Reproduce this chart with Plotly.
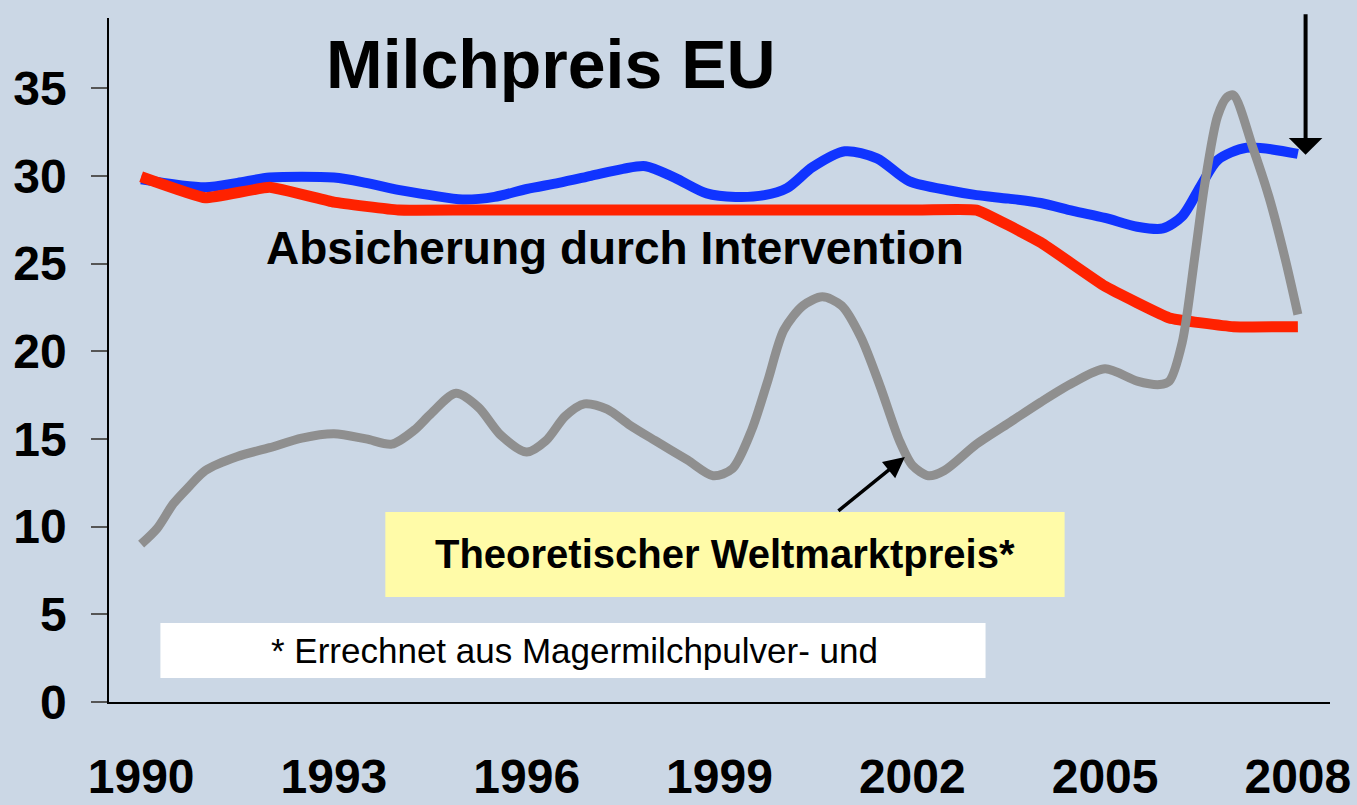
import plotly.graph_objects as go

# ---- data ----
blue_x = [1990.0, 1991.0, 1991.5, 1992.0, 1993.0, 1993.5, 1994.0, 1994.5, 1995.0, 1995.5,
          1996.0, 1996.5, 1997.0, 1997.5, 1997.85, 1998.3, 1998.8, 1999.25, 1999.7, 2000.05,
          2000.45, 2000.95, 2001.45, 2001.95, 2002.6, 2003.0, 2003.5, 2004.0, 2004.5, 2005.0,
          2005.5, 2005.9, 2006.2, 2006.5, 2006.75, 2007.2, 2008.0]
blue_y = [29.8, 29.35, 29.6, 29.9, 29.9, 29.6, 29.2, 28.9, 28.65, 28.8,
          29.25, 29.6, 30.0, 30.4, 30.55, 29.9, 29.0, 28.8, 28.9, 29.3,
          30.5, 31.4, 31.0, 29.7, 29.15, 28.9, 28.7, 28.45, 28.0, 27.6,
          27.1, 27.0, 27.7, 29.5, 30.9, 31.6, 31.25]

red_x = [1990, 1991, 1992, 1993, 1994, 1995, 1996, 1997, 1998, 1999, 2000, 2001, 2002,
         2003, 2004, 2005, 2006, 2007, 2008]
red_y = [29.95, 28.75, 29.35, 28.5, 28.05, 28.05, 28.05, 28.05, 28.05, 28.05, 28.05, 28.05,
         28.05, 28.05, 26.2, 23.7, 21.9, 21.4, 21.4]

grey_x = [1990.0, 1990.25, 1990.5, 1990.75, 1991.0, 1991.5, 1992.0, 1992.5, 1993.0, 1993.5,
          1993.9, 1994.25, 1994.5, 1994.9, 1995.25, 1995.6, 1996.0, 1996.3, 1996.6, 1996.9,
          1997.25, 1997.6, 1998.0, 1998.5, 1998.9, 1999.2, 1999.5, 1999.75, 2000.0, 2000.3,
          2000.6, 2000.9, 2001.2, 2001.5, 2001.8, 2002.0, 2002.25, 2002.5, 2003.0, 2003.5,
          2004.0, 2004.5, 2005.0, 2005.5, 2005.85, 2006.0, 2006.2, 2006.4, 2006.55, 2006.75,
          2006.9, 2007.0, 2007.3, 2007.55, 2007.8, 2008.0]
grey_y = [9.0, 9.9, 11.3, 12.3, 13.2, 14.0, 14.5, 15.05, 15.3, 15.0,
          14.7, 15.5, 16.4, 17.6, 16.8, 15.2, 14.25, 14.9, 16.3, 17.0,
          16.7, 15.8, 14.9, 13.8, 12.9, 13.3, 15.5, 18.3, 21.2, 22.6,
          23.1, 22.6, 20.8, 18.0, 14.9, 13.5, 12.9, 13.2, 14.7, 15.9,
          17.1, 18.2, 19.0, 18.3, 18.1, 18.3, 20.5, 25.5, 29.5, 33.4,
          34.5, 34.6, 31.6, 28.8, 25.3, 22.1]

x_ticks = [1990, 1993, 1996, 1999, 2002, 2005, 2008]
y_ticks = [0, 5, 10, 15, 20, 25, 30, 35]

title_text = "Milchpreis EU"
label_blue = "Absicherung durch Intervention"
label_grey = "Theoretischer Weltmarktpreis*"
footnote = "* Errechnet aus Magermilchpulver- und"

BG = "#CBD7E5"
FONT = "Liberation Sans, Arial, sans-serif"

fig = go.Figure()
fig.add_trace(go.Scatter(x=blue_x, y=blue_y, mode="lines",
                         line=dict(color="#1034FF", width=10, shape="spline", smoothing=0.8),
                         hoverinfo="skip"))
fig.add_trace(go.Scatter(x=red_x, y=red_y, mode="lines",
                         line=dict(color="#FF2200", width=11, shape="spline", smoothing=0.3),
                         hoverinfo="skip"))
fig.add_trace(go.Scatter(x=grey_x, y=grey_y, mode="lines",
                         line=dict(color="#8F8F8F", width=9, shape="spline", smoothing=0.8),
                         hoverinfo="skip"))

# boxes
fig.add_shape(type="rect", xref="x", yref="y", x0=1993.80, x1=2004.37, y0=5.99, y1=10.83,
              fillcolor="#FFFBA8", line=dict(width=0), layer="below")
fig.add_shape(type="rect", xref="x", yref="y", x0=1990.30, x1=2003.14, y0=1.37, y1=4.50,
              fillcolor="#FFFFFF", line=dict(width=0), layer="below")

ann = []
ann.append(dict(x=1996.38, y=36.4, xref="x", yref="y", text=title_text, showarrow=False,
                font=dict(family=FONT, size=68, color="black", weight="bold")))
ann.append(dict(x=1997.37, y=25.9, xref="x", yref="y", text=label_blue, showarrow=False,
                font=dict(family=FONT, size=46, color="black", weight="bold")))
ann.append(dict(x=1999.08, y=8.45, xref="x", yref="y", text=label_grey, showarrow=False,
                font=dict(family=FONT, size=40, color="black", weight="bold")))
ann.append(dict(x=1996.74, y=2.96, xref="x", yref="y", text=footnote, showarrow=False,
                font=dict(family=FONT, size=35, color="black")))
# arrows
ann.append(dict(x=2008.12, y=31.2, xref="x", yref="y", text="", showarrow=True,
                ax=0, ay=-142, arrowhead=1, arrowsize=1.4, arrowwidth=4, arrowcolor="black"))
ann.append(dict(x=2001.885, y=13.97, xref="x", yref="y", text="", showarrow=True,
                ax=-68, ay=55, arrowhead=2, arrowsize=1.2, arrowwidth=3.5, arrowcolor="black"))

fig.update_layout(
    width=1357, height=805,
    margin=dict(l=109, r=27, t=18, b=103, pad=0, autoexpand=False),
    paper_bgcolor=BG, plot_bgcolor=BG,
    showlegend=False,
    annotations=ann,
    font=dict(family=FONT, color="black"),
)
fig.update_xaxes(range=[1989.5, 2008.5], tickvals=x_ticks, ticktext=[str(v) for v in x_ticks],
                 showgrid=False, zeroline=False, showline=True, linecolor="black", linewidth=1.5,
                 ticks="", ticklabelstandoff=32, automargin=False,
                 tickfont=dict(family=FONT, size=48, color="black", weight="bold"))
fig.update_yaxes(range=[0, 39], tickvals=y_ticks, ticktext=[str(v) for v in y_ticks],
                 showgrid=False, zeroline=False, showline=True, linecolor="black", linewidth=1.5,
                 ticks="outside", ticklen=16, tickwidth=1.5, tickcolor="#555555",
                 ticklabelstandoff=15, automargin=False,
                 tickfont=dict(family=FONT, size=48, color="black", weight="bold"))

fig.write_html("out.html", post_script="document.body.style.margin='0';",
               config={"displayModeBar": False})
